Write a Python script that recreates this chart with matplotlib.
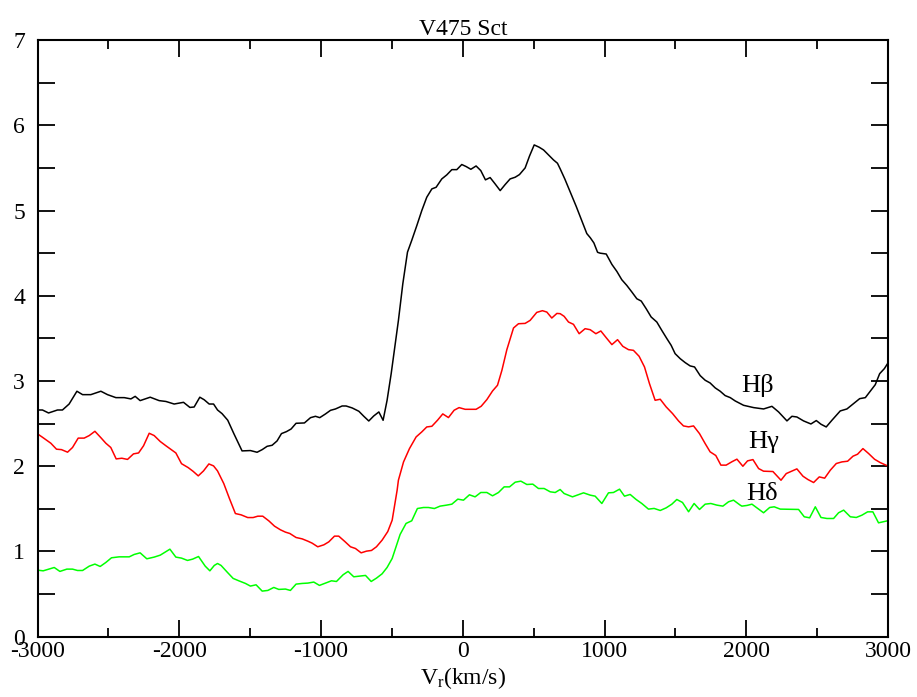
import matplotlib
matplotlib.use("Agg")
import matplotlib.pyplot as plt
from matplotlib.ticker import MultipleLocator, FuncFormatter

plt.rcParams['font.family'] = ['Liberation Serif', 'DejaVu Serif']
plt.rcParams['axes.unicode_minus'] = False
plt.rcParams['mathtext.fontset'] = 'custom'
plt.rcParams['mathtext.rm'] = 'Liberation Serif'
plt.rcParams['mathtext.it'] = 'Liberation Serif:italic'

title = "V475 Sct"
xlabel = r"V$_\mathrm{r}$(km/s)"
series_names = ["Hβ", "Hγ", "Hδ"]

# H beta
vel_hb = [-3000, -2965, -2922, -2859, -2824, -2777, -2722, -2682, -2624, -2553, -2506, -2447, -2388,
          -2341, -2311, -2276, -2205, -2142, -2094, -2036, -1970, -1925, -1895, -1855, -1824, -1789,
          -1758, -1730, -1698, -1658, -1615, -1557, -1498, -1451, -1415, -1380, -1345, -1310, -1279,
          -1244, -1211, -1176, -1117, -1074, -1039, -1009, -969, -933, -898, -851, -823, -780, -733,
          -698, -663, -628, -592, -562, -534, -505, -489, -454, -423, -390, -360, -324, -289, -254,
          -218, -188, -148, -113, -77, -42, -7, 24, 57, 94, 127, 160, 193, 228, 264, 299, 334, 370,
          400, 440, 471, 504, 539, 570, 605, 640, 668, 687, 720, 760, 800, 840, 875, 900, 925, 951,
          969, 1012, 1052, 1087, 1122, 1157, 1193, 1228, 1259, 1294, 1329, 1369, 1404, 1440, 1470,
          1498, 1534, 1569, 1604, 1635, 1675, 1710, 1745, 1781, 1816, 1851, 1887, 1922, 1981, 2052,
          2122, 2181, 2228, 2287, 2322, 2357, 2404, 2456, 2494, 2527, 2564, 2604, 2663, 2710, 2757,
          2800, 2840, 2880, 2910, 2941, 2974, 3004]
flux_hb = [2.66, 2.66, 2.625, 2.66, 2.66, 2.73, 2.88, 2.84, 2.84, 2.88, 2.84, 2.805, 2.805,
           2.79, 2.82, 2.77, 2.81, 2.77, 2.76, 2.73, 2.75, 2.69, 2.695, 2.81, 2.78, 2.73,
           2.73, 2.66, 2.617, 2.54, 2.383, 2.18, 2.184, 2.164, 2.195, 2.234, 2.246, 2.297, 2.383,
           2.406, 2.437, 2.504, 2.508, 2.57, 2.586, 2.57, 2.613, 2.656, 2.672, 2.707, 2.707, 2.684, 2.645,
           2.586, 2.531, 2.59, 2.637, 2.539, 2.773, 3.086, 3.28, 3.71, 4.14, 4.512, 4.65, 4.824, 5.0, 5.156,
           5.254, 5.273, 5.371, 5.418, 5.48, 5.48, 5.54, 5.516, 5.484, 5.523, 5.469, 5.36, 5.387, 5.313, 5.234, 5.305, 5.371, 5.391,
           5.422, 5.5, 5.64, 5.77, 5.743, 5.711, 5.653, 5.594, 5.555, 5.49, 5.37, 5.21, 5.05, 4.88, 4.73, 4.68, 4.62, 4.51,
           4.50, 4.49, 4.368, 4.286, 4.188, 4.122, 4.044, 3.965, 3.938, 3.848, 3.751, 3.692, 3.594, 3.497, 3.419,
           3.321, 3.262, 3.216, 3.177, 3.165, 3.063, 3.009, 2.977, 2.919, 2.88, 2.829, 2.805, 2.766, 2.715, 2.688,
           2.672, 2.703, 2.637, 2.532, 2.586, 2.578, 2.532, 2.496, 2.536, 2.493, 2.461, 2.539, 2.649, 2.672, 2.735,
           2.793, 2.805, 2.891, 2.957, 3.086, 3.145, 3.223]

# H gamma
vel_hg = [-3000, -2965, -2906, -2866, -2831, -2788, -2753, -2713, -2671, -2635, -2595, -2553, -2518,
          -2483, -2445, -2405, -2365, -2323, -2287, -2252, -2212, -2177, -2134, -2094, -2024, -1984,
          -1937, -1902, -1866, -1829, -1791, -1758, -1730, -1686, -1646, -1604, -1564, -1517, -1479,
          -1446, -1411, -1368, -1328, -1286, -1251, -1220, -1176, -1133, -1093, -1063, -1023, -980,
          -945, -905, -875, -832, -792, -757, -717, -679, -644, -609, -569, -529, -498, -463, -454,
          -418, -376, -329, -289, -254, -218, -178, -141, -101, -61, -26, 17, 57, 94, 130, 170, 210,
          245, 276, 311, 358, 393, 440, 475, 522, 562, 593, 628, 664, 687, 715, 746, 781, 821, 863,
          899, 939, 974, 1012, 1052, 1092, 1129, 1169, 1204, 1244, 1282, 1317, 1357, 1393, 1435,
          1480, 1522, 1557, 1593, 1628, 1670, 1710, 1745, 1785, 1821, 1858, 1898, 1934, 1976, 2009,
          2047, 2087, 2122, 2188, 2245, 2282, 2357, 2400, 2435, 2475, 2515, 2553, 2593, 2635, 2675,
          2715, 2753, 2785, 2823, 2863, 2905, 2945, 2997]
flux_hg = [2.38, 2.34, 2.27, 2.20, 2.195, 2.165, 2.22, 2.33, 2.33, 2.36, 2.41, 2.335, 2.27,
           2.22, 2.086, 2.094, 2.08, 2.145, 2.156, 2.24, 2.387, 2.36, 2.29, 2.24, 2.156, 2.03,
           1.984, 1.94, 1.887, 1.945, 2.027, 2.004, 1.945, 1.797, 1.621, 1.445, 1.43, 1.398, 1.398,
           1.414, 1.414, 1.359, 1.297, 1.254, 1.227, 1.211, 1.164, 1.148, 1.121, 1.098, 1.055, 1.078,
           1.113, 1.18, 1.18, 1.117, 1.055, 1.035, 0.984, 1.004, 1.012, 1.055, 1.133, 1.234, 1.367, 1.719, 1.836,
           2.05, 2.207, 2.344, 2.403, 2.461, 2.469, 2.54, 2.614, 2.571, 2.657, 2.688, 2.668, 2.668, 2.668, 2.704, 2.782, 2.883,
           2.95, 3.125, 3.368, 3.622, 3.672, 3.676, 3.711, 3.805, 3.825, 3.809, 3.739, 3.793, 3.79, 3.759, 3.692, 3.665, 3.555, 3.614,
           3.602, 3.555, 3.587, 3.508, 3.427, 3.485, 3.407, 3.368, 3.36, 3.29, 3.165, 2.97, 2.774, 2.786, 2.696,
           2.618, 2.532, 2.473, 2.462, 2.473, 2.383, 2.266, 2.169, 2.126, 2.013, 2.013, 2.052, 2.083, 2.0, 2.063,
           2.078, 1.973, 1.942, 1.938, 1.836, 1.914, 1.969, 1.883, 1.844, 1.809, 1.875, 1.86, 1.954, 2.032, 2.051,
           2.059, 2.118, 2.141, 2.207, 2.149, 2.082, 2.043, 2.004]

# H delta
vel_hd = [-3000, -2960, -2882, -2842, -2793, -2753, -2718, -2682, -2635, -2595, -2558, -2518, -2478,
          -2424, -2353, -2318, -2276, -2229, -2177, -2134, -2066, -2024, -1984, -1942, -1906, -1864,
          -1817, -1784, -1753, -1730, -1705, -1662, -1620, -1580, -1533, -1498, -1458, -1415, -1375,
          -1333, -1298, -1251, -1216, -1176, -1133, -1093, -1051, -1011, -969, -926, -891, -844, -809,
          -769, -726, -686, -646, -609, -569, -534, -498, -463, -442, -400, -360, -320, -277, -242,
          -200, -160, -117, -77, -35, 5, 47, 87, 127, 170, 210, 252, 292, 330, 370, 410, 452, 494,
          534, 574, 617, 652, 687, 715, 774, 852, 899, 934, 981, 1028, 1063, 1106, 1141, 1181, 1223,
          1263, 1310, 1350, 1393, 1435, 1475, 1510, 1550, 1593, 1632, 1670, 1710, 1750, 1792, 1835,
          1875, 1910, 1957, 1969, 2005, 2040, 2080, 2122, 2165, 2197, 2240, 2369, 2409, 2447, 2487,
          2527, 2569, 2616, 2651, 2687, 2734, 2776, 2816, 2856, 2893, 2933, 2997]
flux_hd = [0.781, 0.773, 0.812, 0.766, 0.793, 0.793, 0.777, 0.777, 0.828, 0.852, 0.824, 0.871, 0.926,
           0.937, 0.937, 0.965, 0.984, 0.914, 0.934, 0.957, 1.027, 0.934, 0.922, 0.895, 0.91, 0.941,
           0.828, 0.773, 0.836, 0.859, 0.836, 0.758, 0.684, 0.656, 0.625, 0.594, 0.609, 0.535, 0.543,
           0.578, 0.555, 0.559, 0.543, 0.617, 0.625, 0.629, 0.641, 0.602, 0.629, 0.656, 0.648, 0.727, 0.766,
           0.703, 0.711, 0.719, 0.648, 0.687, 0.738, 0.812, 0.918, 1.094, 1.2, 1.329, 1.36, 1.504, 1.516, 1.516,
           1.504, 1.532, 1.543, 1.555, 1.614, 1.602, 1.665, 1.641, 1.692, 1.692, 1.653, 1.692, 1.758, 1.758, 1.813, 1.825, 1.786, 1.79,
           1.739, 1.739, 1.7, 1.692, 1.727, 1.68, 1.641, 1.688, 1.661, 1.649, 1.563, 1.688, 1.692, 1.731, 1.649, 1.669, 1.61,
           1.563, 1.497, 1.505, 1.481, 1.512, 1.555, 1.61, 1.575, 1.466, 1.563, 1.493, 1.555, 1.563, 1.544, 1.532,
           1.583, 1.602, 1.544, 1.532, 1.54, 1.555, 1.505, 1.454, 1.516, 1.524, 1.497, 1.493, 1.407, 1.395, 1.524,
           1.399, 1.387, 1.387, 1.454, 1.485, 1.407, 1.399, 1.426, 1.465, 1.465, 1.336, 1.36]

label_pos = [(2080, 2.95), (2120, 2.28), (2110, 1.68)]
colors = ["#000000", "#ff0000", "#00ff00"]

fig = plt.figure(figsize=(9.17, 6.97), dpi=100)
ax = fig.add_axes([0.0409, 0.0865, 0.9275, 0.856])

ax.plot(vel_hb, flux_hb, color=colors[0], lw=1.1)
ax.plot(vel_hg, flux_hg, color=colors[1], lw=1.1)
ax.plot(vel_hd, flux_hd, color=colors[2], lw=1.1)

for name, (x, y) in zip(series_names, label_pos):
    ax.text(x, y, name, fontsize=19, ha='center', va='center')

ax.set_xlim(-3000, 3000)
ax.set_ylim(0, 7)
ax.xaxis.set_major_locator(MultipleLocator(1000))
ax.xaxis.set_minor_locator(MultipleLocator(500))
ax.yaxis.set_major_locator(MultipleLocator(0.5))
ax.yaxis.set_major_formatter(FuncFormatter(lambda v, p: f"{int(round(v))}" if abs(v - round(v)) < 1e-6 else ""))

ax.tick_params(which='both', direction='in', top=True, right=True, width=1.3)
ax.tick_params(axis='x', which='major', length=12, labelsize=17, pad=3)
ax.tick_params(axis='x', which='minor', length=6.5)
ax.tick_params(axis='y', which='major', length=12, labelsize=17, pad=9)
for s in ax.spines.values():
    s.set_linewidth(1.5)

ax.set_title(title, fontsize=17, pad=3)
ax.set_xlabel(xlabel, fontsize=17, labelpad=2)

fig.savefig("out.png", dpi=100)
